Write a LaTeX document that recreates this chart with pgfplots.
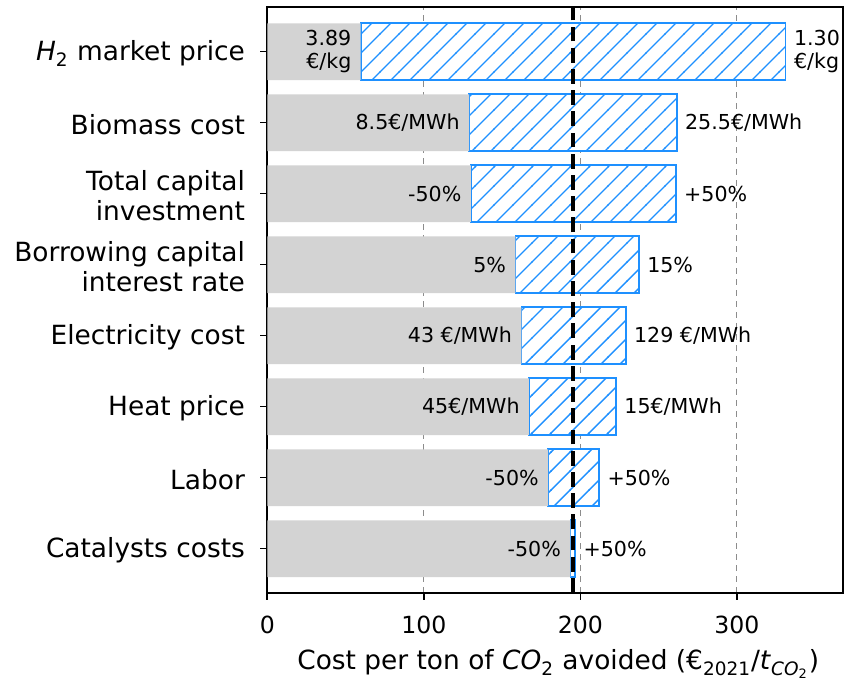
\documentclass[border=0pt]{standalone}
\usepackage{pgfplots}
\pgfplotsset{compat=1.18}
\usepackage{pgfplotstable}
\usepackage{fontspec}
\setmainfont{DejaVu Sans}
\usetikzlibrary{patterns}
\definecolor{hblue}{RGB}{30,144,255}
\definecolor{bgray}{RGB}{211,211,211}
\definecolor{ggray}{RGB}{140,140,140}

\pgfdeclarepatternformonly{hatchlines}{\pgfqpoint{-1pt}{-1pt}}{\pgfqpoint{10.5pt}{10.5pt}}{\pgfqpoint{9.5pt}{9.5pt}}{%
  \pgfsetlinewidth{0.7pt}%
  \pgfpathmoveto{\pgfqpoint{-0.2pt}{-0.2pt}}%
  \pgfpathlineto{\pgfqpoint{9.7pt}{9.7pt}}%
  \pgfusepath{stroke}}

\pgfplotstableread{
y low high diff
0 193.6 196.7 3.1
1 179.4 212.0 32.6
2 167.2 222.8 55.6
3 162.3 229.0 66.7
4 158.5 237.4 78.9
5 130.0 261.0 131.0
6 128.9 261.6 132.7
7 59.7 331.2 271.5
}\data

\tikzset{blab/.style={font=\fontsize{10.3}{11.8}\selectfont, inner sep=0pt}}

\begin{document}
\begin{tikzpicture}
\begin{axis}[
  scale only axis,
  width=287.9pt, height=292.7pt,
  xbar stacked,
  bar width=0.8,
  xmin=0, xmax=367.9,
  ymin=-0.62, ymax=7.625,
  xtick={0,100,200,300},
  ytick={0,1,2,3,4,5,6,7},
  yticklabels={Catalysts costs, Labor, Heat price, Electricity cost,
    {Borrowing capital\\interest rate}, {Total capital\\investment},
    Biomass cost, {\textit{H}\textsubscript{2} market price}},
  yticklabel style={align=right, font=\fontsize{13.2}{14.6}\selectfont, inner sep=0pt, anchor=east, xshift=-7.5pt, yshift=-1pt},
  xticklabel style={font=\fontsize{11.8}{14}\selectfont, inner sep=0pt, anchor=base, yshift=-16.8pt},
  /pgf/number format/assume math mode=true,
  tick align=outside,
  major tick length=3.5pt,
  xtick pos=left, ytick pos=left,
  axis line style={line width=0.8pt},
  tick style={line width=0.8pt, black},
  xmajorgrids,
  grid style={ggray, line width=0.6pt, dash pattern=on 3pt off 2.5pt},
  xlabel={Cost per ton of \textit{CO}\textsubscript{2} avoided (€\textsubscript{2021}/\textit{t}\textsubscript{\textit{CO}\textsubscript{2}})},
  xlabel style={font=\fontsize{13.2}{15}\selectfont, inner sep=0pt, at={(axis description cs:0.5,0)}, anchor=base, yshift=-38.5pt, xshift=1.5pt},
]
\addplot[fill=bgray, draw=none] table[x=low, y=y]{\data};
\addplot[fill=white, draw=hblue, line width=0.8pt,
  postaction={pattern=hatchlines, pattern color=hblue}]
  table[x=diff, y=y]{\data};
\coordinate (db) at (axis cs:195,-0.62);
\coordinate (dt) at (axis cs:195,7.625);
\coordinate (L7) at (axis cs:59.7,7);  \coordinate (R7) at (axis cs:331.2,7);
\coordinate (L6) at (axis cs:128.9,6); \coordinate (R6) at (axis cs:261.6,6);
\coordinate (L5) at (axis cs:130.0,5); \coordinate (R5) at (axis cs:261.0,5);
\coordinate (L4) at (axis cs:158.5,4); \coordinate (R4) at (axis cs:237.4,4);
\coordinate (L3) at (axis cs:162.3,3); \coordinate (R3) at (axis cs:229.0,3);
\coordinate (L2) at (axis cs:167.2,2); \coordinate (R2) at (axis cs:222.8,2);
\coordinate (L1) at (axis cs:179.4,1); \coordinate (R1) at (axis cs:212.0,1);
\coordinate (L0) at (axis cs:193.6,0); \coordinate (R0) at (axis cs:196.7,0);
\end{axis}
\draw[black, line width=2pt, dash pattern=on 7.4pt off 3.2pt] (db) -- (dt);
\node[blab, anchor=east, align=right, xshift=-4.5pt] at (L7) {3.89\\€/kg};
\node[blab, anchor=west, align=left, xshift=4pt] at (R7) {1.30\\€/kg};
\node[blab, anchor=east, xshift=-4.5pt] at (L6) {8.5€/MWh};
\node[blab, anchor=west, xshift=4pt] at (R6) {25.5€/MWh};
\node[blab, anchor=east, xshift=-4.5pt] at (L5) {-50\%};
\node[blab, anchor=west, xshift=4pt] at (R5) {+50\%};
\node[blab, anchor=east, xshift=-4.5pt] at (L4) {5\%};
\node[blab, anchor=west, xshift=4pt] at (R4) {15\%};
\node[blab, anchor=east, xshift=-4.5pt] at (L3) {43 €/MWh};
\node[blab, anchor=west, xshift=4pt] at (R3) {129 €/MWh};
\node[blab, anchor=east, xshift=-4.5pt] at (L2) {45€/MWh};
\node[blab, anchor=west, xshift=4pt] at (R2) {15€/MWh};
\node[blab, anchor=east, xshift=-4.5pt] at (L1) {-50\%};
\node[blab, anchor=west, xshift=4pt] at (R1) {+50\%};
\node[blab, anchor=east, xshift=-4.5pt] at (L0) {-50\%};
\node[blab, anchor=west, xshift=4pt] at (R0) {+50\%};
\pgfresetboundingbox
\path[use as bounding box] (-133.65pt,-43.65pt) rectangle (288.35pt,296.35pt);
\end{tikzpicture}
\end{document}
